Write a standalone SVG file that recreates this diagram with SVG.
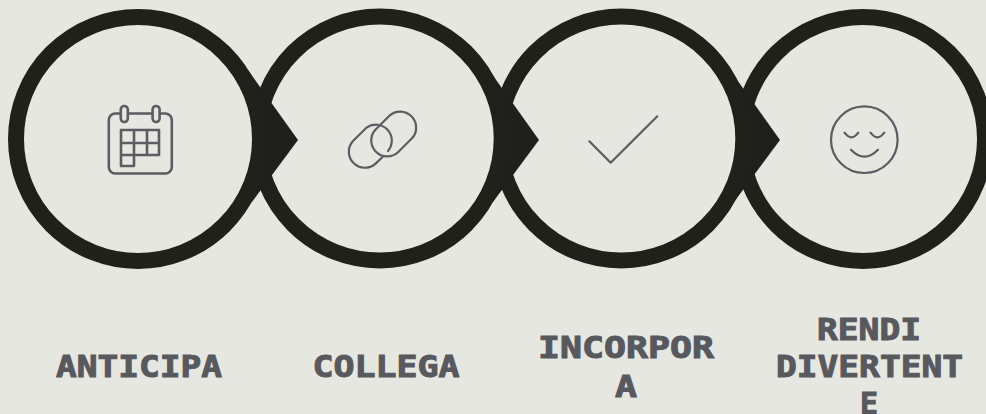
<svg xmlns="http://www.w3.org/2000/svg" width="986" height="414" viewBox="0 0 986 414">
<style>
.ring{fill:#e6e7e1;stroke:#20211b;stroke-width:16}
.arrow{fill:#1f201b}
.icon{fill:none;stroke:#5c5c62;stroke-width:2.2;stroke-linejoin:round;stroke-linecap:round}
.thick{stroke-width:2.6}
.label{font-family:"DejaVu Sans Mono","Liberation Mono",monospace;font-weight:700;font-size:29.5px;fill:#58595e;stroke:#58595e;stroke-width:1;text-anchor:middle}
</style>
<rect width="986" height="414" fill="#e6e7e1"/>
<g id="connectors">
<circle class="ring" cx="863" cy="139" r="122"/>
<polygon class="arrow" points="730,70 780,140 734,202"/>
<circle class="ring" cx="621.3" cy="138.5" r="122"/>
<polygon class="arrow" points="489,70 539,140 493,202"/>
<circle class="ring" cx="379.7" cy="138.5" r="122"/>
<polygon class="arrow" points="248,70 298,140 252,202"/>
<circle class="ring" cx="138" cy="139" r="122"/>
</g>
<g id="node-anticipa">
<rect class="icon thick" x="108.8" y="113.5" width="63" height="60" rx="6.5"/>
<rect class="icon thick" x="120.8" y="106" width="7" height="16" rx="3.5" style="fill:#e6e7e1"/>
<rect class="icon thick" x="152.6" y="106" width="7" height="16" rx="3.5" style="fill:#e6e7e1"/>
<path class="icon thick" d="M121 130H159V155H134V166H121ZM121 143H159M121 155H134M134 130V155M147 130V155"/>
<text class="label" x="139" y="377" textLength="166" lengthAdjust="spacingAndGlyphs">ANTICIPA</text>
</g>
<g id="node-collega">
<path class="icon" d="M382.3 157.3L375.6 163.6A16 16 0 0 1 353 141L366.4 127.7A16 16 0 0 1 388 151"/>
<path class="icon" d="M389.4 115.7A16 16 0 0 1 412 138.3L398 152.3A16 16 0 0 1 375.4 129.7Z"/>
<text class="label" x="386" y="377" textLength="147" lengthAdjust="spacingAndGlyphs">COLLEGA</text>
</g>
<g id="node-incorpora">
<polyline class="icon" points="589.3,141.3 610.7,162.7 657.3,116.3"/>
<text class="label" x="626" y="358" textLength="176" lengthAdjust="spacingAndGlyphs">INCORPOR</text>
<text class="label" x="626" y="397" textLength="22" lengthAdjust="spacingAndGlyphs">A</text>
</g>
<g id="node-rendi-divertente">
<circle class="icon" cx="864.3" cy="139.7" r="33.3"/>
<path class="icon" d="M844.5 132.7Q851.5 142 858.3 132.7M870.5 132.7Q877.5 142 884.3 132.7M851 149.7Q864.3 163.5 878 149.7"/>
<text class="label" x="869" y="340" textLength="104" lengthAdjust="spacingAndGlyphs">RENDI</text>
<text class="label" x="869.5" y="377" textLength="187" lengthAdjust="spacingAndGlyphs">DIVERTENT</text>
<text class="label" x="869" y="413.5" textLength="18" lengthAdjust="spacingAndGlyphs">E</text>
</g>
</svg>
